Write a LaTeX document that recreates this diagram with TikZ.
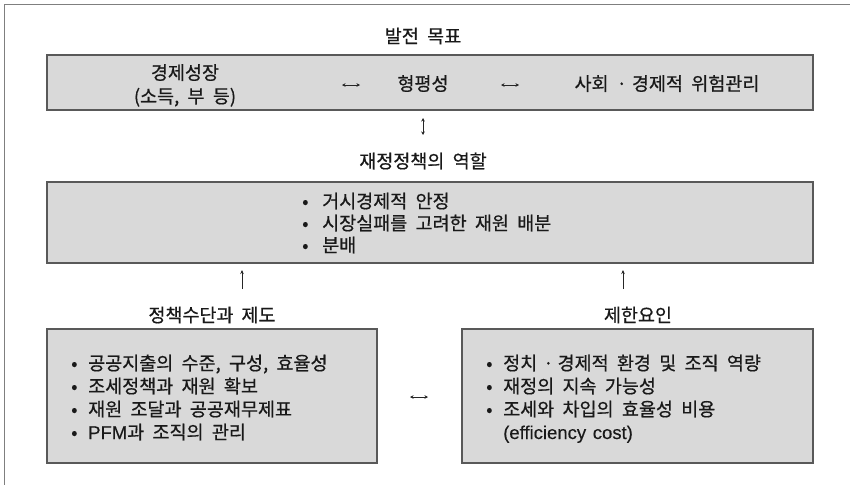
\documentclass[tikz,border=0pt]{standalone}
\usepackage{fontspec}
\setmainfont{Noto Sans CJK KR}[WordSpace=2.0, FakeBold=0.6]
\newfontfamily\latinfont{Liberation Sans}[WordSpace=1.3, FakeBold=0.3]
\usetikzlibrary{arrows.meta}
\definecolor{boxfill}{HTML}{D9D9D9}
\definecolor{boxline}{HTML}{595959}
\definecolor{frameline}{HTML}{7F7F7F}
\newcommand{\kfs}{\fontsize{18.5}{22.5}\selectfont}
\newcommand{\bm}[2]{\makebox[#1][l]{•}#2}
\begin{document}
\begin{tikzpicture}[x=1pt,y=-1pt,
  box/.style={draw=boxline, fill=boxfill, line width=1.1pt, inner sep=0pt, outer sep=0pt},
  txt/.style={font=\kfs, inner sep=0pt, align=center, text=black!90},
  item/.style={font=\kfs, inner sep=0pt, anchor=base west, text=black!90},
  conn/.style={line width=0.9pt, draw=black!85, {Stealth[length=3.5pt,width=3.5pt]}-{Stealth[length=3.5pt,width=3.5pt]}},
  up/.style={line width=0.9pt, draw=black!85, -{Stealth[length=4pt,width=3.5pt]}},
  frame/.style={draw=frameline, line width=1.1pt}]
\useasboundingbox (0,0) rectangle (850,485);
\draw[frame] (850,4.5) -- (4.5,4.5) -- (4.5,485);

% goals
\node[txt] (goaltitle) at (423,36) {발전 목표};
\node[box, minimum width=766pt, minimum height=55pt, anchor=north west] (goal) at (47,55) {};
\node[item, anchor=base] (g1a) at (185,79.5) {경제성장};
\node[item, anchor=base] (g1b) at (185,103) {(소득, 부 등)};
\node[item, anchor=base] (g2) at (423,90.5) {형평성};
\node[item, anchor=base] (g3) at (667,90.5) {사회\kern8pt·\kern5pt경제적 위험관리};
\coordinate (a1l) at (342,85); \coordinate (a1r) at (360,85);
\coordinate (a2l) at (501,85); \coordinate (a2r) at (519,85);
\draw[conn] (a1l) -- (a1r);
\draw[conn] (a2l) -- (a2r);

% role
\coordinate (v1t) at (423,118); \coordinate (v1b) at (423,135);
\draw[conn] (v1t) -- (v1b);
\node[txt] (roletitle) at (423,161) {재정정책의 역할};
\node[box, minimum width=766pt, minimum height=81pt, anchor=north west] (role) at (47,182) {};
\node[item] (r1) at (302,208) {\bm{20pt}{거시경제적 안정}};
\node[item] (r2) at (302,230) {\bm{20pt}{시장실패를 고려한 재원 배분}};
\node[item] (r3) at (302,252) {\bm{20pt}{분배}};

% arrows up
\coordinate (u1b) at (242,289); \coordinate (u1t) at (242,270);
\coordinate (u2b) at (623,289); \coordinate (u2t) at (623,270);
\draw[up] (u1b) -- (u1t);
\draw[up] (u2b) -- (u2t);

% instruments
\node[txt] (insttitle) at (212,315) {정책수단과\hspace{8pt}제도};
\node[box, minimum width=330pt, minimum height=134pt, anchor=north west] (inst) at (47,329) {};
\node[item] (i1) at (71,370) {\bm{17pt}{공공지출의 수준, 구성, 효율성}};
\node[item] (i2) at (71,393) {\bm{17pt}{조세정책과 재원 확보}};
\node[item] (i3) at (71,416) {\bm{17pt}{재원 조달과 공공재무제표}};
\node[item] (i4) at (71,439) {\bm{17pt}{{\latinfont PFM}과 조직의 관리}};

% constraints
\node[txt] (contitle) at (638,315) {제한요인};
\node[box, minimum width=351pt, minimum height=134pt, anchor=north west] (con) at (462,329) {};
\node[item] (c1) at (486,370) {\bm{17pt}{정치\kern6pt·\kern4pt경제적 환경 및 조직 역량}};
\node[item] (c2) at (486,393) {\bm{17pt}{재정의 지속 가능성}};
\node[item] (c3) at (486,416) {\bm{17pt}{조세와 차입의 효율성 비용}};
\node[item] (c4) at (486,439) {\hspace{17pt}{\latinfont (efficiency cost)}};

\coordinate (hl) at (410,397); \coordinate (hr) at (428,397);
\draw[conn] (hl) -- (hr);
\end{tikzpicture}
\end{document}
